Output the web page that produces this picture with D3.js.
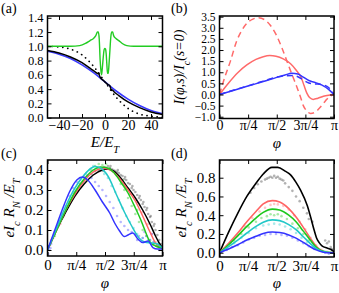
<!DOCTYPE html>
<html><head><meta charset="utf-8">
<script src="https://cdn.jsdelivr.net/npm/d3@7"></script>
<style>body{margin:0;background:#fff}svg{display:block}svg text{font-family:"Liberation Serif","DejaVu Serif",serif !important}</style>
</head><body><script>
const PI = Math.PI;
// ---------- Panel (a) ----------
const aXTicks = [-40, -20, 0, 20, 40];
const aYTicks = [0, 0.2, 0.4, 0.6, 0.8, 1.0, 1.2, 1.4];
const aGreen = [[-50,1.0],[-30,1.0],[-22,1.01],[-17,1.04],[-13,1.08],[-10,1.11],[-8,1.15],[-6.5,1.2],[-5.8,1.2],[-5,1.1],[-4.2,0.8],[-3.5,0.65],[-3,0.6],[-2.3,0.7],[-1.5,0.85],[-0.8,0.95],[-0.2,0.97],[0.5,0.96],[1.0,0.9],[1.6,0.75],[2.2,0.62],[2.8,0.62],[3.5,0.75],[4.3,0.95],[5.0,1.12],[5.8,1.2],[6.6,1.2],[7.5,1.15],[9.5,1.11],[12,1.08],[15,1.04],[19,1.01],[25,1.0],[50,1.0]];
const aBlue = [[-50,0.93],[-40,0.89],[-30,0.83],[-20,0.74],[-10,0.63],[0,0.5],[10,0.37],[20,0.26],[30,0.17],[40,0.1],[50,0.055]];
const aBlack = [[-50,0.94],[-40,0.905],[-30,0.85],[-20,0.77],[-12,0.68],[-8,0.635],[-6,0.615],[-5.5,0.63],[-5,0.6],[-4,0.56],[-2,0.53],[0,0.5],[2,0.47],[4,0.45],[5,0.41],[5.5,0.38],[6,0.39],[8,0.36],[12,0.31],[20,0.22],[30,0.14],[40,0.08],[50,0.045]];
const aDotted = [[-50,1.0],[-40,0.99],[-30,0.96],[-20,0.88],[-10,0.72],[0,0.5],[10,0.28],[20,0.13],[30,0.05],[40,0.02],[50,0.005]];
// ---------- Panel (b) ----------
const bYTicks = [-1.0,-0.5,0,0.5,1.0,1.5,2.0,2.5,3.0,3.5];
const phiTicks = [0, PI/4, PI/2, 3*PI/4, PI];
const phiLabels = ["0","π/4","π/2","3π/4","π"];
const bRedDash = [[0,0],[0.15,0.8],[0.3,1.5],[0.47,2.4],[0.6,2.85],[0.75,3.2],[0.9,3.38],[1.07,3.45],[1.25,3.35],[1.4,3.1],[1.55,2.7],[1.7,2.15],[1.85,1.5],[2.0,0.85],[2.12,0.35],[2.22,-0.1],[2.3,-0.5],[2.4,-0.75],[2.5,-0.85],[2.62,-0.8],[2.75,-0.6],[2.9,-0.3],[3.0,-0.12],[PI,0]];
const bRed = [[0,0],[0.25,0.52],[0.5,0.98],[0.75,1.33],[1.0,1.58],[1.2,1.7],[1.38,1.75],[1.55,1.72],[1.75,1.6],[1.95,1.38],[2.1,1.1],[2.25,0.73],[2.32,0.4],[2.4,0.05],[2.48,-0.15],[2.57,-0.22],[2.7,-0.17],[2.85,-0.08],[3.0,-0.03],[PI,0]];
const bBlue = [[0,0],[0.4,0.19],[0.8,0.39],[1.2,0.58],[1.57,0.77],[1.8,0.88],[1.98,0.95],[2.15,0.92],[2.3,0.78],[2.45,0.63],[2.6,0.55],[2.8,0.43],[3.0,0.22],[PI,0]];
const bBlueDash = [[0,0],[0.4,0.2],[0.8,0.4],[1.2,0.6],[1.57,0.78],[1.8,0.84],[2.0,0.85],[2.15,0.8],[2.3,0.65],[2.45,0.52],[2.6,0.48],[2.8,0.45],[3.0,0.3],[PI,0]];
// ---------- Panel (c) ----------
const cYTicks = [0, 0.1, 0.2, 0.3, 0.4];
const cBlack = [[0,0],[0.25,0.1],[0.5,0.19],[0.75,0.27],[1.0,0.33],[1.25,0.375],[1.5,0.4],[1.65,0.405],[1.8,0.395],[2.0,0.36],[2.2,0.31],[2.4,0.26],[2.6,0.2],[2.8,0.13],[2.95,0.07],[3.05,0.035],[PI,0.01]];
const cRed = [[0,0],[0.25,0.1],[0.5,0.2],[0.75,0.28],[1.0,0.345],[1.25,0.39],[1.5,0.408],[1.6,0.408],[1.8,0.39],[2.0,0.35],[2.2,0.3],[2.4,0.245],[2.6,0.17],[2.8,0.09],[2.95,0.035],[3.05,0.015],[PI,0.01]];
const cGreen = [[0,0],[0.25,0.1],[0.5,0.2],[0.75,0.29],[1.0,0.355],[1.25,0.4],[1.45,0.415],[1.6,0.412],[1.8,0.39],[2.0,0.34],[2.2,0.285],[2.4,0.21],[2.55,0.15],[2.7,0.08],[2.8,0.04],[2.95,0.02],[PI,0.01]];
const cCyan = [[0,0],[0.25,0.11],[0.5,0.22],[0.75,0.31],[1.0,0.375],[1.2,0.41],[1.3,0.418],[1.45,0.41],[1.65,0.37],[1.9,0.27],[2.1,0.19],[2.3,0.12],[2.5,0.06],[2.65,0.04],[2.85,0.035],[3.0,0.03],[PI,0.01]];
const cBlue = [[0,0],[0.2,0.1],[0.4,0.2],[0.6,0.29],[0.8,0.35],[0.95,0.365],[1.1,0.35],[1.3,0.3],[1.5,0.24],[1.7,0.185],[1.85,0.13],[1.97,0.095],[2.1,0.067],[2.2,0.075],[2.33,0.085],[2.47,0.055],[2.6,0.037],[2.75,0.045],[2.88,0.012],[3.0,0.005],[PI,0.005]];
const cGrayDots = [[0.9,0.33],[1.0,0.35],[1.1,0.37],[1.2,0.38],[1.3,0.395],[1.4,0.4],[1.45,0.41],[1.5,0.405],[1.55,0.415],[1.6,0.41],[1.65,0.42],[1.7,0.41],[1.75,0.405],[1.8,0.4],[1.85,0.395],[1.9,0.39],[1.95,0.385],[2.0,0.375],[2.05,0.37],[2.1,0.355],[2.15,0.35],[2.2,0.335],[2.25,0.33],[2.3,0.31],[2.35,0.3],[2.4,0.29],[2.45,0.275],[2.5,0.26],[2.55,0.25],[2.6,0.23],[2.65,0.215],[2.7,0.2],[2.75,0.18],[2.8,0.165],[2.85,0.14],[2.9,0.12],[2.95,0.1],[3.0,0.075],[3.05,0.05],[3.1,0.03],[1.52,0.395],[1.72,0.42],[1.92,0.4],[2.12,0.365],[2.32,0.32],[2.52,0.27],[2.72,0.21],[2.92,0.13],[2.62,0.24],[2.82,0.17]];
const cPinkDots = [[0.05,0.02],[0.1,0.05],[0.15,0.06],[0.2,0.09],[0.3,0.12],[0.35,0.13],[0.45,0.17],[0.55,0.22],[0.6,0.24],[0.7,0.27],[0.8,0.3],[0.95,0.33],[1.1,0.37],[1.25,0.39],[1.4,0.41],[1.55,0.41],[1.7,0.4],[1.85,0.38],[2.0,0.35],[2.15,0.31],[2.3,0.28],[2.45,0.24],[2.6,0.19],[2.75,0.13],[2.85,0.08],[2.95,0.04],[3.05,0.02]];
const cGreenDots = [[0.2,0.07],[0.4,0.16],[0.6,0.24],[0.9,0.33],[1.2,0.4],[1.3,0.42],[1.4,0.43],[1.5,0.425],[1.6,0.43],[1.7,0.41],[1.8,0.39],[1.9,0.37],[2.0,0.33],[2.1,0.3],[2.2,0.26],[2.3,0.22],[2.4,0.18],[2.5,0.14],[2.6,0.1],[2.7,0.07],[2.8,0.05],[2.9,0.03],[3.0,0.02],[2.05,0.35],[2.25,0.28],[2.45,0.2]];
const cCyanDots = [[0.1,0.04],[0.3,0.13],[0.5,0.21],[0.7,0.29],[0.9,0.35],[1.05,0.38],[1.15,0.4],[1.25,0.42],[1.35,0.41],[1.45,0.4],[1.55,0.38],[1.65,0.36],[1.75,0.32],[1.85,0.29],[1.95,0.25],[2.05,0.21],[2.15,0.17],[2.25,0.14],[2.35,0.11],[2.45,0.08],[2.6,0.06],[2.75,0.05],[2.9,0.04],[3.0,0.03]];
const cBlueDots = [[0.02,-0.02],[0.05,0.0],[0.08,0.01],[0.1,0.03],[0.15,0.06],[0.2,0.08],[0.25,0.11],[0.3,0.14],[0.4,0.18],[0.5,0.22],[0.6,0.27],[0.7,0.31],[0.8,0.34],[0.9,0.36],[1.0,0.37],[1.1,0.37],[1.2,0.36],[1.3,0.34],[1.4,0.32],[1.5,0.3],[1.6,0.27],[1.7,0.24],[1.8,0.21],[1.9,0.17],[2.0,0.14],[2.1,0.12],[2.2,0.1],[2.3,0.09],[2.4,0.08],[2.5,0.07],[2.6,0.06],[2.7,0.07],[2.8,0.05],[2.9,0.04],[3.0,0.02],[3.05,0.0],[2.45,0.05],[2.65,0.09],[2.85,0.08]];
// ---------- Panel (d) ----------
const dYTicks = [0, 0.2, 0.4, 0.6, 0.8];
const dBlack = [[0,0],[0.25,0.22],[0.5,0.42],[0.75,0.6],[1.0,0.74],[1.2,0.84],[1.44,0.91],[1.6,0.91],[1.8,0.87],[1.95,0.83],[2.1,0.75],[2.22,0.67],[2.41,0.5],[2.5,0.38],[2.59,0.25],[2.66,0.16],[2.73,0.11],[2.82,0.07],[2.95,0.05],[3.05,0.036],[PI,0.01]];
const dRed = [[0,0],[0.25,0.1],[0.5,0.21],[0.75,0.33],[1.0,0.44],[1.2,0.52],[1.45,0.555],[1.65,0.54],[1.9,0.47],[2.1,0.38],[2.3,0.27],[2.5,0.15],[2.65,0.07],[2.8,0.02],[2.95,0.005],[PI,0]];
const dGreen = [[0,0],[0.25,0.085],[0.5,0.18],[0.75,0.28],[1.0,0.37],[1.2,0.43],[1.45,0.465],[1.65,0.455],[1.9,0.4],[2.1,0.33],[2.3,0.23],[2.5,0.13],[2.65,0.06],[2.8,0.02],[2.95,0.005],[PI,0]];
const dCyan = [[0,0],[0.25,0.065],[0.5,0.135],[0.75,0.21],[1.0,0.28],[1.2,0.325],[1.45,0.35],[1.65,0.342],[1.9,0.3],[2.1,0.245],[2.3,0.17],[2.5,0.095],[2.65,0.045],[2.8,0.015],[2.95,0.005],[PI,0]];
const dBlue = [[0,0],[0.25,0.04],[0.5,0.085],[0.75,0.135],[1.0,0.175],[1.2,0.205],[1.45,0.22],[1.65,0.215],[1.9,0.19],[2.1,0.155],[2.3,0.11],[2.5,0.06],[2.65,0.03],[2.8,0.01],[2.95,0.0],[PI,0]];
const dGrayDots = [[0.85,0.64],[0.95,0.69],[1.05,0.73],[1.15,0.76],[1.25,0.78],[1.3,0.79],[1.35,0.8],[1.4,0.81],[1.45,0.8],[1.5,0.82],[1.55,0.8],[1.6,0.81],[1.65,0.79],[1.7,0.78],[1.75,0.77],[1.8,0.74],[1.9,0.7],[2.0,0.66],[2.1,0.6],[2.2,0.55],[2.3,0.48],[2.4,0.42],[2.45,0.36],[2.55,0.33],[2.9,0.13],[2.95,0.1],[3.0,0.12],[3.05,0.06],[3.08,0.04]];
const dPinkDots = [[0.1,0.03],[0.3,0.1],[0.5,0.19],[0.7,0.28],[0.9,0.37],[1.1,0.44],[1.25,0.48],[1.4,0.51],[1.5,0.52],[1.6,0.515],[1.75,0.5],[1.9,0.46],[2.05,0.4],[2.2,0.33],[2.35,0.25],[2.5,0.16],[2.65,0.08],[2.8,0.03],[2.95,0.01]];
const dGreenDots = [[0.2,0.06],[0.4,0.13],[0.6,0.2],[0.8,0.27],[1.0,0.33],[1.15,0.37],[1.3,0.39],[1.4,0.41],[1.5,0.4],[1.6,0.41],[1.7,0.39],[1.85,0.36],[2.0,0.31],[2.15,0.26],[2.3,0.2],[2.45,0.13],[2.6,0.07],[2.75,0.03],[2.9,0.01]];
const dCyanDots = [[0.2,0.05],[0.4,0.1],[0.6,0.16],[0.8,0.21],[1.0,0.26],[1.2,0.29],[1.35,0.3],[1.5,0.31],[1.65,0.3],[1.8,0.28],[1.95,0.25],[2.1,0.21],[2.25,0.16],[2.4,0.11],[2.55,0.06],[2.7,0.03],[2.85,0.01]];
const dBlueDots = [[0.05,0.01],[0.2,0.03],[0.35,0.06],[0.5,0.08],[0.65,0.11],[0.8,0.14],[0.95,0.16],[1.1,0.18],[1.25,0.19],[1.4,0.2],[1.55,0.2],[1.7,0.19],[1.85,0.18],[2.0,0.16],[2.15,0.13],[2.3,0.1],[2.45,0.07],[2.6,0.04],[2.75,0.02],[2.9,0.0],[3.0,-0.01],[3.1,0.0]];

const COL = {black:"#000", red:"#ff6464", green:"#1ec81e", cyan:"#22c8c8", blue:"#3434ff",
  gray:"#555", pink:"#ff8080", lgreen:"#40d040", lcyan:"#40d0d0", lblue:"#6060ff"};
const FONT = '"Liberation Serif","DejaVu Serif",serif';

const W = 339, H = 293;
const svg = d3.select("body").append("svg").attr("width", W).attr("height", H)
  .style("font-family", FONT);

function panel(o) {
  const x = d3.scaleLinear().domain(o.xd).range([o.x0, o.x1]);
  const y = d3.scaleLinear().domain(o.yd).range([o.y1, o.y0]);
  const g = svg.append("g");
  const clipId = "clip" + o.id;
  svg.append("clipPath").attr("id", clipId).append("rect")
    .attr("x", o.x0).attr("y", o.y0).attr("width", o.x1 - o.x0).attr("height", o.y1 - o.y0);
  const plot = g.append("g").attr("clip-path", `url(#${clipId})`);
  const fmtX = o.xLabels ? (d, i) => o.xLabels[i] : d3.format("d");
  const bx = g.append("g").attr("transform", `translate(0,${o.y1})`)
    .call(d3.axisBottom(x).tickValues(o.xt).tickFormat(fmtX).tickSizeInner(-4).tickSizeOuter(0).tickPadding(o.xpad ?? 3));
  const tx = g.append("g").attr("transform", `translate(0,${o.y0})`)
    .call(d3.axisTop(x).tickValues(o.xt).tickFormat("").tickSizeInner(-4).tickSizeOuter(0));
  const ly = g.append("g").attr("transform", `translate(${o.x0},0)`)
    .call(d3.axisLeft(y).tickValues(o.yt).tickFormat(d3.format(".1f")).tickSizeInner(-4).tickSizeOuter(0).tickPadding(4));
  const ry = g.append("g").attr("transform", `translate(${o.x1},0)`)
    .call(d3.axisRight(y).tickValues(o.yt).tickFormat("").tickSizeInner(-4).tickSizeOuter(0));
  [bx, tx, ly, ry].forEach(a => {
    a.attr("font-family", FONT);
    a.select(".domain").remove();
    a.selectAll("line").attr("stroke", "#000").attr("stroke-width", 1);
    a.selectAll("text").attr("font-size", 15).attr("fill", "#000");
  });
  if (o.yfs) ly.selectAll("text").attr("font-size", o.yfs);
  if (o.xfs) bx.selectAll("text").attr("font-size", o.xfs);
  o.draw(plot, x, y);
  g.append("rect").attr("x", o.x0).attr("y", o.y0).attr("width", o.x1 - o.x0).attr("height", o.y1 - o.y0)
    .attr("fill", "none").attr("stroke", "#000").attr("stroke-width", 1.5);
  g.append("text").attr("x", o.lx).attr("y", o.ly).attr("font-size", 14).text(o.label);
  return {x, y, g};
}

function line(plot, x, y, data, color, width, dash) {
  const l = d3.line().x(d => x(d[0])).y(d => y(d[1])).curve(d3.curveMonotoneX);
  const p = plot.append("path").datum(data).attr("d", l).attr("fill", "none")
    .attr("stroke", color).attr("stroke-width", width).attr("stroke-linejoin", "round");
  if (dash) p.attr("stroke-dasharray", dash);
  return p;
}
function dots(plot, x, y, data, color) {
  plot.append("g").selectAll("circle").data(data).join("circle")
    .attr("cx", d => x(d[0])).attr("cy", d => y(d[1])).attr("r", 1.3)
    .attr("fill", color).attr("fill-opacity", 0.45);
}

// (a)
panel({id:"a", x0:47.5, x1:162.5, y0:16, y1:118, xd:[-50,50], yd:[-0.005,1.425], xt:aXTicks, yt:aYTicks, yfs:12.5, xfs:14, xpad:2,
  label:"(a)", lx:1, ly:13,
  draw:(p, x, y) => {
    line(p, x, y, aDotted, "#000", 1.7, "0.1,5").attr("stroke-linecap", "round");
    line(p, x, y, aGreen, "#22cc22", 1.4);
    line(p, x, y, aBlue, "#3a3aff", 1.6);
    line(p, x, y, aBlack, "#000", 1.5);
  }});
// (b)
panel({id:"b", x0:219.5, x1:334, y0:16, y1:118.5, xd:[0,PI], yd:[-1.08,3.53], xt:phiTicks, xLabels:phiLabels, yt:bYTicks, yfs:11.5, xfs:14, xpad:2,
  label:"(b)", lx:171, ly:13,
  draw:(p, x, y) => {
    line(p, x, y, bRedDash, "#ff6a6a", 1.5, "6,4");
    line(p, x, y, bRed, "#ff6a6a", 1.5);
    line(p, x, y, bBlueDash, "#3434ff", 1.5, "6,4");
    line(p, x, y, bBlue, "#3434ff", 1.5);
  }});
// (c)
panel({id:"c", x0:47.5, x1:162.5, y0:160, y1:256, xd:[0,PI], yd:[-0.03,0.45], xt:phiTicks, xLabels:phiLabels, yt:cYTicks,
  label:"(c)", lx:1, ly:158,
  draw:(p, x, y) => {
    dots(p, x, y, cGrayDots, COL.gray);
    dots(p, x, y, cPinkDots, COL.pink);
    dots(p, x, y, cGreenDots, COL.lgreen);
    dots(p, x, y, cCyanDots, COL.lcyan);
    dots(p, x, y, cBlueDots, COL.lblue);
    line(p, x, y, cBlack, COL.black, 1.5);
    line(p, x, y, cRed, COL.red, 1.5);
    line(p, x, y, cGreen, COL.green, 1.5);
    line(p, x, y, cCyan, COL.cyan, 1.5);
    line(p, x, y, cBlue, COL.blue, 1.5);
  }});
// (d)
panel({id:"d", x0:219.5, x1:334, y0:160, y1:257, xd:[0,PI], yd:[-0.046,0.989], xt:phiTicks, xLabels:phiLabels, yt:dYTicks,
  label:"(d)", lx:171, ly:158,
  draw:(p, x, y) => {
    dots(p, x, y, dGrayDots, COL.gray);
    dots(p, x, y, dPinkDots, COL.pink);
    dots(p, x, y, dGreenDots, COL.lgreen);
    dots(p, x, y, dCyanDots, COL.lcyan);
    dots(p, x, y, dBlueDots, COL.lblue);
    line(p, x, y, dBlack, COL.black, 1.6);
    line(p, x, y, dRed, COL.red, 1.6);
    line(p, x, y, dGreen, COL.green, 1.6);
    line(p, x, y, dCyan, COL.cyan, 1.6);
    line(p, x, y, dBlue, COL.blue, 1.6);
  }});

// axis labels
function lab(t, parts) {
  parts.forEach(p => {
    const s = t.append("tspan").text(p[0]);
    if (p[1]) s.attr("baseline-shift", p[1]).attr("font-size", "70%");
  });
  return t;
}
function xlab(cx, yb, parts) {
  return lab(svg.append("text").attr("x", cx).attr("y", yb).attr("text-anchor", "middle")
    .attr("font-size", 15).attr("font-style", "italic"), parts);
}
function ylab(cx, cy, parts, fs) {
  return lab(svg.append("text").attr("transform", `translate(${cx},${cy}) rotate(-90)`).attr("text-anchor", "middle")
    .attr("font-size", fs || 15).attr("font-style", "italic"), parts);
}
xlab(105, 146.5, [["E/E"],["T","sub"]]);
xlab(277, 147.5, [["φ"]]);
xlab(105, 288, [["φ"]]);
xlab(277, 288, [["φ"]]);
ylab(184, 67, [["I"],["(φ,s)/I"],["c","sub"],["(s=0)"]], 14);
ylab(14, 208, [["eI"],["c","sub"],[" R"],["N","sub"],[" /E"],["T","sub"]]);
ylab(186, 208, [["eI"],["c","sub"],[" R"],["N","sub"],[" /E"],["T","sub"]]);
</script></body></html>
